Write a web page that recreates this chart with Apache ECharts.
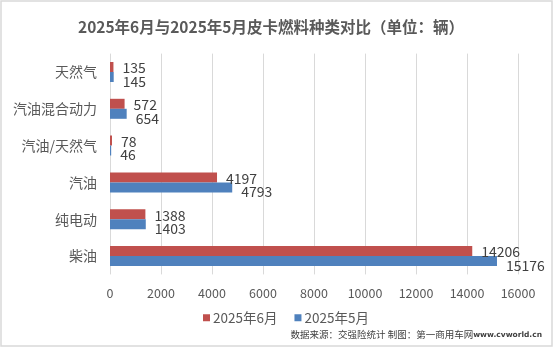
<!DOCTYPE html>
<html><head><meta charset="utf-8">
<script src="https://cdn.jsdelivr.net/npm/echarts@6/dist/echarts.min.js"></script>
<style>html,body{margin:0;padding:0;background:#fff}#c{width:554px;height:349px}</style>
</head><body><div id="c"></div>
<script>
const titleText = '2025年6月与2025年5月皮卡燃料种类对比（单位：辆）';
const categories = ['天然气','汽油混合动力','汽油/天然气','汽油','纯电动','柴油'];
const seriesNames = ['2025年6月','2025年5月'];
const june = [135, 572, 78, 4197, 1388, 14206];
const may = [145, 654, 46, 4793, 1403, 15176];
const xTicks = [0,2000,4000,6000,8000,10000,12000,14000,16000];
const sourceText = '数据来源：交强险统计 制图：第一商用车网';
const sourceUrl = 'www.cvworld.cn';

const FONT = '"Noto Sans CJK SC", "Noto Sans", sans-serif';
const chart = echarts.init(document.getElementById('c'), null, {renderer:'canvas'});
chart.setOption({
  animation:false,
  backgroundColor:'#fff',
  title:{text:titleText,left:73,top:14,textStyle:{fontFamily:FONT,fontSize:15.5,fontWeight:'bold',color:'#595959'}},
  legend:{data:seriesNames,left:198,top:306,itemWidth:7,itemHeight:7,itemGap:17,icon:'rect',
    textStyle:{fontFamily:FONT,fontSize:13.5,color:'#595959',padding:[0,0,0,-2]}},
  grid:{left:110,right:36,top:53.6,bottom:74.6,containLabel:false},
  xAxis:{type:'value',min:xTicks[0],max:xTicks[xTicks.length-1],interval:2000,
    axisLine:{show:false},axisTick:{show:false},
    splitLine:{lineStyle:{color:'#d9d9d9',width:1}},
    axisLabel:{fontFamily:FONT,fontSize:12.5,color:'#595959',margin:13,formatter:function(v){return String(v);}}},
  yAxis:{type:'category',data:categories,inverse:true,
    axisLine:{show:false},axisTick:{show:false},
    axisLabel:{fontFamily:FONT,fontSize:14,color:'#595959',margin:13}},
  series:[
    {name:seriesNames[0],type:'bar',data:june,barWidth:10,barGap:'0%',
      itemStyle:{color:'#C0504D'},
      label:{show:true,position:'right',distance:9,offset:[0,1],fontFamily:FONT,fontSize:14,color:'#404040'}},
    {name:seriesNames[1],type:'bar',data:may,barWidth:10,barGap:'0%',
      itemStyle:{color:'#4F81BD'},
      label:{show:true,position:'right',distance:9,offset:[0,4.5],fontFamily:FONT,fontSize:14,color:'#404040'}}
  ],
  graphic:[
    {type:'rect',shape:{x:1,y:1,width:551,height:345},style:{fill:'none',stroke:'#d9d9d9',lineWidth:1.5},silent:true},
    {type:'text',right:12,top:330,style:{rich:{a:{fontFamily:FONT,fontSize:9.5,fill:'#404040'},b:{fontFamily:'"DejaVu Sans", sans-serif',fontSize:7.5,fontWeight:'bold',fill:'#404040'}},text:'{a|'+sourceText+'}{b|'+sourceUrl+'}'}}
  ]
});
</script></body></html>
